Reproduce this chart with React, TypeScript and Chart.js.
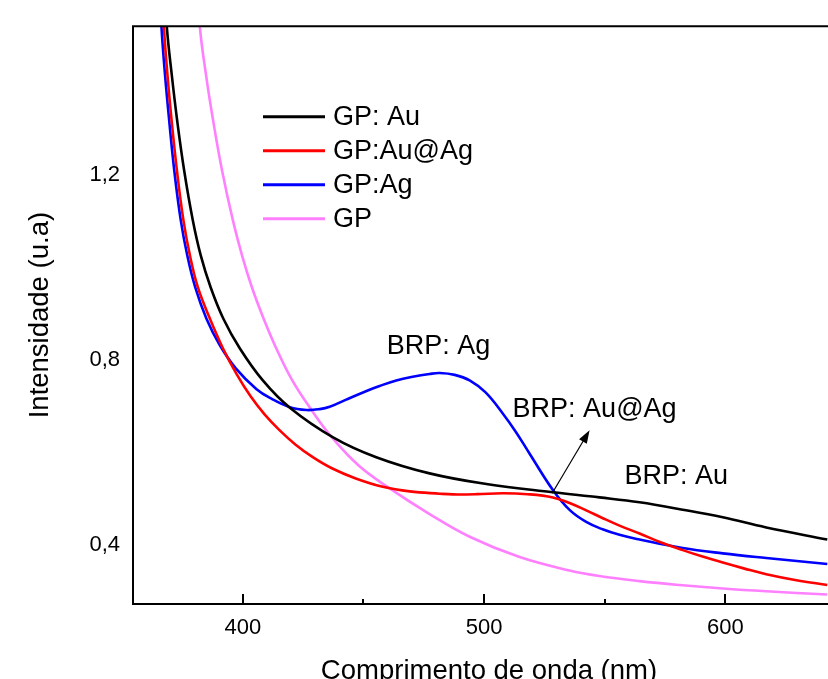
import React, { useEffect, useRef } from "react";
import { Chart, registerables } from "chart.js";

Chart.register(...registerables);

// ---- data (wavelength in nm, intensity in a.u.) ----
const auX = [366.0, 368.5, 370.6, 372.8, 375.7, 379.3, 382.6, 386.7, 391.9, 398.8, 408.3, 419.5, 437.4, 455.3, 477.4, 500.9, 528.5, 547.8, 564.4, 582.3, 598.9, 616.9, 642.2];
const auY = [1.72, 1.521, 1.415, 1.318, 1.21, 1.102, 1.026, 0.957, 0.89, 0.825, 0.756, 0.697, 0.633, 0.59, 0.555, 0.532, 0.514, 0.503, 0.4925, 0.4765, 0.46, 0.438, 0.412];

const auagX = [365.6, 367.3, 368.8, 370.5, 372.7, 375.4, 378.1, 381.4, 386.1, 391.8, 397.5, 403.3, 409.1, 415.3, 421.9, 429.0, 436.9, 446.8, 458.0, 469.2, 481.6, 487.1, 497.0, 507.8, 518.0, 528.5, 535.4, 542.3, 549.2, 556.1, 564.4, 573.1, 582.3, 590.5, 598.9, 607.9, 616.9, 629.4, 642.2];
const auagY = [1.72, 1.521, 1.415, 1.318, 1.21, 1.102, 1.026, 0.957, 0.893, 0.825, 0.769, 0.721, 0.682, 0.648, 0.617, 0.59, 0.566, 0.544, 0.526, 0.516, 0.511, 0.5095, 0.51, 0.512, 0.51, 0.503, 0.491, 0.475, 0.458, 0.442, 0.425, 0.406, 0.389, 0.375, 0.362, 0.349, 0.337, 0.324, 0.3135];

const agX = [364.5, 366.3, 367.8, 369.5, 371.6, 374.3, 377.0, 380.3, 384.9, 390.5, 397.1, 405.7, 412.0, 419.5, 426.4, 431.9, 436.0, 442.6, 449.8, 456.7, 463.6, 470.4, 477.4, 481.6, 487.8, 494.0, 500.6, 507.8, 513.3, 518.8, 528.5, 535.4, 542.3, 549.1, 556.1, 564.4, 582.3, 598.9, 616.9, 642.2];
const agY = [1.72, 1.521, 1.415, 1.318, 1.21, 1.102, 1.026, 0.957, 0.89, 0.832, 0.782, 0.737, 0.716, 0.698, 0.692, 0.694, 0.699, 0.714, 0.73, 0.744, 0.756, 0.764, 0.77, 0.772, 0.768, 0.756, 0.73, 0.684, 0.6435, 0.598, 0.519, 0.476, 0.45, 0.434, 0.422, 0.412, 0.3935, 0.382, 0.372, 0.359];

const gpX = [379.7, 382.2, 384.8, 387.7, 391.4, 395.9, 399.7, 403.8, 408.6, 413.9, 420.5, 428.6, 436.9, 448.0, 460.7, 477.4, 494.0, 514.7, 535.4, 547.8, 564.4, 581.0, 598.9, 616.9, 642.2];
const gpY = [1.72, 1.521, 1.415, 1.318, 1.21, 1.102, 1.026, 0.957, 0.89, 0.825, 0.756, 0.691, 0.633, 0.572, 0.523, 0.467, 0.418, 0.374, 0.345, 0.333, 0.322, 0.3135, 0.306, 0.3, 0.293];

const seriesLabels = ["GP: Au", "GP:Au@Ag", "GP:Ag", "GP"];
const seriesColors = ["#000000", "#ff0000", "#0000ff", "#ff80ff"];

const xMajorTicks = [400, 500, 600];
const xMinorTicks = [450, 550];
const yTicks = [0.4, 0.8, 1.2];

const xTitle = "Comprimento de onda (nm)";
const yTitle = "Intensidade (u.a)";

const annotationTexts = ["BRP: Ag", "BRP: Au@Ag", "BRP: Au"];
const annotationX = [459.6, 511.8, 558.2];
const annotationY = [0.814, 0.676, 0.533];

const arrowFromX = 528.2;
const arrowFromY = 0.512;
const arrowToX = 543.7;
const arrowToY = 0.648;

const FONT = "'Liberation Sans', Arial, sans-serif";

const toPoints = (xs: number[], ys: number[]) => xs.map((x, i) => ({ x, y: ys[i] }));

const overlayPlugin = {
  id: "overlay",
  afterDatasetsDraw(chart: any) {
    const { ctx, chartArea, scales } = chart;
    const xs = scales.x;
    const ys = scales.y;
    ctx.save();
    // frame: left, top, bottom
    ctx.strokeStyle = "#000";
    ctx.lineWidth = 2;
    ctx.beginPath();
    ctx.moveTo(chartArea.left, chartArea.top);
    ctx.lineTo(chartArea.right + 2, chartArea.top);
    ctx.moveTo(chartArea.left, chartArea.top - 1);
    ctx.lineTo(chartArea.left, chartArea.bottom + 1);
    ctx.moveTo(chartArea.left - 1, chartArea.bottom);
    ctx.lineTo(chartArea.right + 2, chartArea.bottom);
    ctx.stroke();
    // inward ticks on bottom axis
    ctx.beginPath();
    xMajorTicks.forEach((v) => {
      const px = Math.round(xs.getPixelForValue(v));
      ctx.moveTo(px, chartArea.bottom);
      ctx.lineTo(px, chartArea.bottom - 10);
    });
    xMinorTicks.forEach((v) => {
      const px = Math.round(xs.getPixelForValue(v));
      ctx.moveTo(px, chartArea.bottom);
      ctx.lineTo(px, chartArea.bottom - 5);
    });
    ctx.stroke();

    // x axis title
    ctx.fillStyle = "#000";
    ctx.font = `27.5px ${FONT}`;
    ctx.textAlign = "center";
    ctx.textBaseline = "alphabetic";
    ctx.fillText(xTitle, chartArea.left + 356, chartArea.bottom + 74.5);

    // legend
    const lx = chartArea.left + 130;
    const ly = chartArea.top + 90.5;
    const rowH = 34;
    ctx.font = `27px ${FONT}`;
    ctx.textBaseline = "middle";
    ctx.textAlign = "left";
    seriesLabels.forEach((label, i) => {
      const y = ly + i * rowH;
      ctx.strokeStyle = seriesColors[i];
      ctx.lineWidth = 3;
      ctx.beginPath();
      ctx.moveTo(lx, y);
      ctx.lineTo(lx + 62, y);
      ctx.stroke();
      ctx.fillStyle = "#000";
      ctx.fillText(label, lx + 70, y + 1);
    });

    // annotations
    ctx.textBaseline = "alphabetic";
    ctx.fillStyle = "#000";
    annotationTexts.forEach((t, i) => {
      ctx.fillText(t, xs.getPixelForValue(annotationX[i]), ys.getPixelForValue(annotationY[i]));
    });

    // arrow
    const x1 = xs.getPixelForValue(arrowFromX);
    const y1 = ys.getPixelForValue(arrowFromY);
    const x2 = xs.getPixelForValue(arrowToX);
    const y2 = ys.getPixelForValue(arrowToY);
    const ang = Math.atan2(y2 - y1, x2 - x1);
    const headLen = 13;
    const headW = 4.5;
    ctx.strokeStyle = "#000";
    ctx.lineWidth = 1.2;
    ctx.beginPath();
    ctx.moveTo(x1, y1);
    ctx.lineTo(x2 - Math.cos(ang) * headLen * 0.8, y2 - Math.sin(ang) * headLen * 0.8);
    ctx.stroke();
    ctx.beginPath();
    ctx.moveTo(x2, y2);
    ctx.lineTo(
      x2 - Math.cos(ang) * headLen + Math.cos(ang + Math.PI / 2) * headW,
      y2 - Math.sin(ang) * headLen + Math.sin(ang + Math.PI / 2) * headW
    );
    ctx.lineTo(
      x2 - Math.cos(ang) * headLen - Math.cos(ang + Math.PI / 2) * headW,
      y2 - Math.sin(ang) * headLen - Math.sin(ang + Math.PI / 2) * headW
    );
    ctx.closePath();
    ctx.fill();
    ctx.restore();
  },
};

export default function App() {
  const canvasRef = useRef<HTMLCanvasElement | null>(null);

  useEffect(() => {
    if (!canvasRef.current) return;
    const seriesX = [auX, auagX, agX, gpX];
    const seriesY = [auY, auagY, agY, gpY];
    const chart = new Chart(canvasRef.current, {
      type: "line",
      data: {
        datasets: seriesLabels.map((label, i) => ({
          label,
          data: toPoints(seriesX[i], seriesY[i]),
          borderColor: seriesColors[i],
          backgroundColor: seriesColors[i],
          borderWidth: 2.6,
          pointRadius: 0,
          tension: 0.4,
          fill: false,
          clip: 0,
        })),
      },
      options: {
        animation: false,
        responsive: false,
        maintainAspectRatio: false,
        layout: { padding: { top: 26, left: 0, right: 0, bottom: 0 } },
        plugins: { legend: { display: false }, tooltip: { enabled: false } },
        scales: {
          x: {
            type: "linear",
            min: 354.5,
            max: 642.5,
            afterBuildTicks: (s: any) => {
              s.ticks = xMajorTicks.map((v) => ({ value: v }));
            },
            afterFit: (s: any) => {
              s.height = 75;
            },
            grid: { display: false, drawTicks: false },
            border: { display: false },
            ticks: {
              color: "#000",
              font: { family: FONT, size: 22 },
              padding: 11,
              maxRotation: 0,
              autoSkip: false,
              callback: (v: any) => String(v),
            },
            title: { display: false },
          },
          y: {
            type: "linear",
            min: 0.2725,
            max: 1.522,
            afterBuildTicks: (s: any) => {
              s.ticks = yTicks.map((v) => ({ value: v }));
            },
            afterFit: (s: any) => {
              s.width = 133;
            },
            grid: { display: false, drawTicks: false },
            border: { display: false },
            ticks: {
              color: "#000",
              font: { family: FONT, size: 22 },
              padding: 13,
              autoSkip: false,
              callback: (v: any) => Number(v).toFixed(1).replace(".", ","),
            },
            title: {
              display: true,
              text: yTitle,
              color: "#000",
              font: { family: FONT, size: 27.5 },
              padding: { top: 24, bottom: 0 },
            },
          },
        },
      },
      plugins: [overlayPlugin],
    } as any);
    return () => chart.destroy();
  }, []);

  return (
    <div style={{ position: "absolute", left: 0, top: 0, width: 828, height: 679, background: "#fff" }}>
      <canvas ref={canvasRef} width={828} height={679} style={{ display: "block" }} />
    </div>
  );
}
